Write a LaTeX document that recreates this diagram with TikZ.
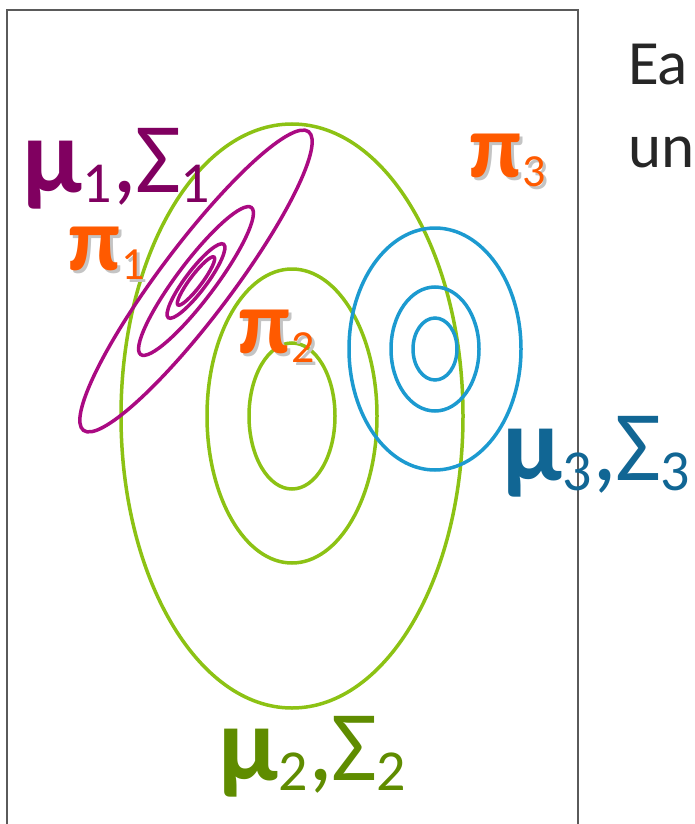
\documentclass[tikz,border=0pt]{standalone}
\usepackage{fontspec}
\setmainfont{Carlito}
\definecolor{framegray}{HTML}{5A5A5A}
\definecolor{ellgreen}{HTML}{8CC214}
\definecolor{ellblue}{HTML}{1C9AD0}
\definecolor{ellmag}{HTML}{AA0A82}
\definecolor{labmag}{HTML}{800060}
\definecolor{labgreen}{HTML}{5F8C00}
\definecolor{labblue}{HTML}{116694}
\definecolor{piorange}{HTML}{FF5A00}
\definecolor{pishade}{HTML}{C4C4C4}
\definecolor{textgray}{HTML}{262626}
\newcommand{\musig}[1]{{\bfseries\fontsize{106}{106}\selectfont μ}\kern1pt\raisebox{-10pt}{\fontsize{58}{58}\selectfont #1}{\fontsize{100}{100}\selectfont ,\kern-2pt Σ}\raisebox{-10pt}{\fontsize{58}{58}\selectfont #1}}
\newcommand{\pibody}[1]{{\bfseries\fontsize{90}{90}\selectfont π}\kern1pt\raisebox{-9pt}{\fontsize{46}{46}\selectfont #1}}
\newcommand{\pilabel}[1]{\rlap{\kern3pt\raisebox{-3pt}{\color{pishade}\pibody{#1}}}\pibody{#1}}
\begin{document}
\begin{tikzpicture}[x=1pt,y=-1pt,
  contour/.style={line width=3.5pt},
  grn/.style={contour, draw=ellgreen},
  blu/.style={contour, draw=ellblue},
  mag/.style={contour, draw=ellmag},
  lab/.style={anchor=base west, inner sep=0pt, outer sep=0pt},
  pilab/.style={lab, text=piorange},
  bodytext/.style={lab, text=textgray, font=\fontsize{63}{63}\selectfont}]
\useasboundingbox (0,0) rectangle (694,824);
% frame
\draw[framegray, line width=1.6pt] (7,830) -- (7,10) -- (578,10) -- (578,830);
% green contours
\draw[grn] (292,416) ellipse [x radius=171pt, y radius=292pt];
\draw[grn] (292,416) ellipse [x radius=85pt, y radius=147pt];
\draw[grn] (292,416) ellipse [x radius=43pt, y radius=73pt];
% blue contours
\draw[blu] (435,349) ellipse [x radius=86pt, y radius=121pt];
\draw[blu] (435,349) ellipse [x radius=44pt, y radius=62pt];
\draw[blu] (435,349) ellipse [x radius=22pt, y radius=31pt];
% magenta contours
\begin{scope}[rotate around={53:(196,281)}]
\draw[mag] (196,281) ellipse [x radius=187pt, y radius=36pt];
\draw[mag] (196,281) ellipse [x radius=92pt, y radius=19pt];
\draw[mag] (196,281) ellipse [x radius=46pt, y radius=10.5pt];
\draw[mag] (196,281) ellipse [x radius=30pt, y radius=6pt];
\end{scope}
% labels
\node[lab, text=labmag] (m1) at (22,192) {\musig{1}};
\node[lab, text=labblue] (m3) at (502,480) {\musig{3}};
\node[lab, text=labgreen] (m2) at (218,780) {\musig{2}};
% pi labels (with drop shadow)
\node[pilab] (p1) at (68,270) {\pilabel{1}};
\node[pilab] (p3) at (469,177) {\pilabel{3}};
\node[pilab] (p2) at (238,353) {\pilabel{2}};
% body text (cut at the right edge)
\node[bodytext] (t1) at (628,85) {Ea};
\node[bodytext] (t2) at (628,167) {un};
\end{tikzpicture}
\end{document}
